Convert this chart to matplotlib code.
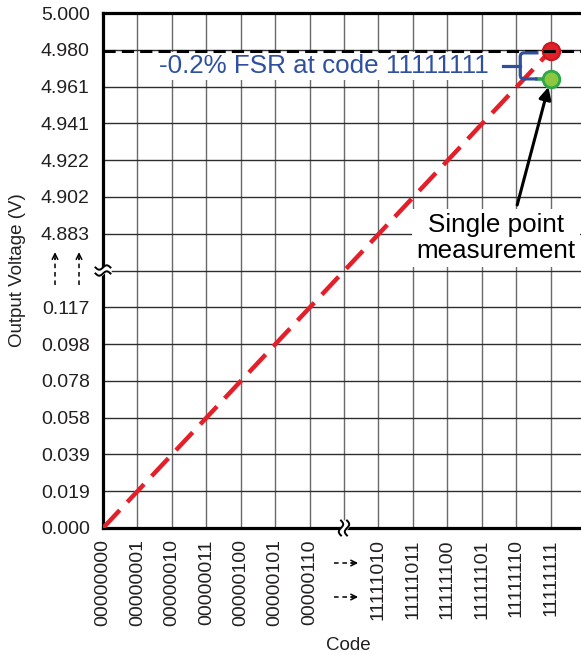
import matplotlib.pyplot as plt
import matplotlib.transforms as mtransforms
import numpy as np

plt.rcParams['font.family'] = ['Liberation Sans', 'DejaVu Sans']

lsb = 5.0 / 256  # 8-bit DAC, 5 V full scale

# codes shown on the x axis (the gap between 00000110 and 11111010 is broken)
x_codes = [0, 1, 2, 3, 4, 5, 6, 250, 251, 252, 253, 254, 255]
x_labels = ['00000000', '00000001', '00000010', '00000011', '00000100', '00000101',
            '00000110', '11111010', '11111011', '11111100', '11111101', '11111110',
            '11111111']

# output voltage grid (in LSB steps) and its labels
y_codes = [0, 1, 2, 3, 4, 5, 6, 250, 251, 252, 253, 254, 255, 256]
y_labels = ['0.000', '0.019', '0.039', '0.058', '0.078', '0.098', '0.117',
            '4.883', '4.902', '4.922', '4.941', '4.961', '4.980', '5.000']

# ideal transfer function endpoints
ideal_codes = [0, 255]
ideal_volts = [0.000, 4.980]

# single point measurement at full scale
meas_code = 255
meas_volt = 4.965
ideal_fs = 4.980


def pos(code):
    # compress the axis: codes above the break are shifted down next to it
    code = np.asarray(code, dtype=float)
    return np.where(code <= 7, code, code - 242)


def vpos(v):
    return pos(np.asarray(v, dtype=float) / lsb)


def break_mark(ax, x, y, vertical):
    # two small wavy strokes across a spine, spine blanked between them
    tr = ax.figure.dpi_scale_trans + mtransforms.ScaledTranslation(x, y, ax.transData)
    t = np.linspace(-1, 1, 40)
    along = t * 0.075
    wave = 0.022 * np.sin(np.pi * t)
    gap = 0.03
    a = wave - gap
    b = wave + gap
    if vertical:
        ax.fill_betweenx(along, a, b, color='white', transform=tr, clip_on=False, zorder=7)
        ax.plot(a, along, color='black', lw=1.4, transform=tr, clip_on=False, zorder=7)
        ax.plot(b, along, color='black', lw=1.4, transform=tr, clip_on=False, zorder=7)
    else:
        ax.fill_between(along, a, b, color='white', transform=tr, clip_on=False, zorder=7)
        ax.plot(along, a, color='black', lw=1.4, transform=tr, clip_on=False, zorder=7)
        ax.plot(along, b, color='black', lw=1.4, transform=tr, clip_on=False, zorder=7)


fig = plt.figure(figsize=(5.81, 6.55), dpi=100)
ax = fig.add_axes([103 / 581, 1 - 528 / 655, 482 / 581, 515 / 655])
ax.set_xlim(0, 14)
ax.set_ylim(0, 14)

# ticks, with an unlabelled grid line at the break
xt = list(pos(x_codes)) + [7]
ax.set_xticks(xt)
ax.set_xticklabels(x_labels + [''], rotation=90, fontsize=14, color='#231f20')
yt = list(pos(y_codes)) + [7]
ax.set_yticks(yt)
ax.set_yticklabels(y_labels + [''], fontsize=14, color='#231f20')
ax.tick_params(axis='x', length=0, pad=8)
ax.tick_params(axis='y', length=0, pad=9.5)
ax.xaxis.grid(True, color='#6a6a6a', lw=1.0)
ax.yaxis.grid(True, color='#2e2e2e', lw=1.0)
ax.set_axisbelow(True)

for side in ['left', 'bottom', 'top']:
    ax.spines[side].set_linewidth(2.3)
ax.spines['right'].set_visible(False)

ax.set_xlabel('Code', fontsize=13.5, color='#231f20')
ax.xaxis.set_label_coords(0.508, -0.212)
ax.set_ylabel('Output Voltage (V)', fontsize=13.5, color='#231f20')
ax.yaxis.set_label_coords(-0.16, 0.5)

# axis break marks
break_mark(ax, 0, 7, vertical=False)
break_mark(ax, 7, 0, vertical=True)

# dashed arrows that stand for the skipped range
ytr = ax.get_yaxis_transform()
for xf in [-0.0996, -0.0498]:
    ax.plot([xf, xf], [6.6, 7.35], transform=ytr, color='black', lw=1.1,
            ls=(0, (3, 2.5)), clip_on=False)
    ax.annotate('', xy=(xf, 7.5), xytext=(xf, 7.3), xycoords=ytr, textcoords=ytr,
                arrowprops=dict(arrowstyle='->', lw=1.1, color='black',
                                shrinkA=0, shrinkB=0, mutation_scale=10))
xtr = ax.get_xaxis_transform()
for yf in [-0.068, -0.134]:
    ax.plot([6.72, 7.25], [yf, yf], transform=xtr, color='black', lw=1.1,
            ls=(0, (3, 2.5)), clip_on=False)
    ax.annotate('', xy=(7.41, yf), xytext=(7.2, yf), xycoords=xtr, textcoords=xtr,
                arrowprops=dict(arrowstyle='->', lw=1.1, color='black',
                                shrinkA=0, shrinkB=0, mutation_scale=10))

# ideal full-scale level
ax.axhline(vpos(ideal_fs), color='black', lw=2.2, ls=(0, (4, 2)), zorder=6)

# ideal transfer line
ax.plot(pos(ideal_codes), vpos(ideal_volts), color='#e3202a', lw=3.2,
        ls=(0, (5.5, 2.5)), zorder=3)

# bracket showing the full-scale error
top = float(vpos(ideal_fs)) - 0.06
bot = float(vpos(meas_volt))
mid = (top + bot) / 2
blue = '#2f4f9f'
ax.plot([12.65, 12.2, 12.14, 12.12, 12.12, 12.14, 12.2, 12.62],
        [top, top, top - 0.03, top - 0.09, bot + 0.09, bot + 0.03, bot, bot],
        color=blue, lw=2.3, solid_joinstyle='round', solid_capstyle='butt', zorder=6.5)
ax.plot([11.63, 12.12], [mid, mid], color=blue, lw=2.3, zorder=6.5)
ax.plot([12.62, pos(meas_code)], [bot, bot], color='#2aa84a', lw=2.6, zorder=4)
ax.text(11.19, mid, '-0.2% FSR at code 11111111', ha='right', va='center',
        color=blue, fontsize=18.7,
        bbox=dict(facecolor='white', edgecolor='none', pad=1.5), zorder=4)

# ideal and measured points
ax.plot(pos(meas_code), vpos(ideal_fs), 'o', ms=12.5, mfc='#e3202a', mec='#c41a22',
        mew=1.5, zorder=5, clip_on=False)
ax.plot(pos(meas_code), vpos(meas_volt), 'o', ms=12, mfc='#8dc63f', mec='#2aa84a',
        mew=2, zorder=5, clip_on=False)

ax.text(11.42, 7.88, 'Single point\nmeasurement', ha='center', va='center',
        fontsize=18.7, linespacing=1.1, color='black',
        bbox=dict(facecolor='white', edgecolor='none', pad=3), zorder=4)
ax.annotate('', xy=(pos(meas_code), vpos(meas_volt)), xytext=(12.03, 8.78),
            arrowprops=dict(arrowstyle='-|>', color='black', lw=2.2,
                            shrinkA=0, shrinkB=6, mutation_scale=18), zorder=6)

fig.savefig('out.png', dpi=100)
